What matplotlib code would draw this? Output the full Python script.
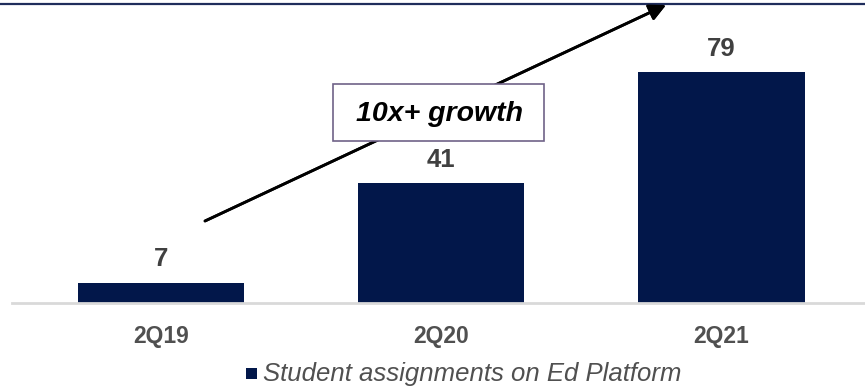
import matplotlib.pyplot as plt
from matplotlib.lines import Line2D
from matplotlib.patches import Rectangle

# Daten
quarters = ["2Q19", "2Q20", "2Q21"]
assignments = [7, 41, 79]
series_name = "Student assignments on Ed Platform"
callout = "10x+ growth"

navy = "#02174a"
plt.rcParams["font.family"] = ["Liberation Sans", "DejaVu Sans"]

fig = plt.figure(figsize=(8.65, 3.86), dpi=100)
W, H = 865, 386

# Achsen in Pixeln: links 12, unten 303, oben 3
ax = fig.add_axes([12 / W, (H - 303) / H, (W - 12) / W, 300 / H])
x = list(range(len(quarters)))
ax.bar(x, assignments, width=0.596, color=navy, zorder=2)
ax.set_xlim(-0.532, 2.514)
ax.set_ylim(0, 102.7)

for xi, v in zip(x, assignments):
    ax.text(xi, v + 4, str(v), ha="center", va="bottom", fontsize=18.5,
            fontweight="bold", color="#404040")

ax.set_xticks(x)
ax.set_xticklabels(quarters, fontsize=16.5, fontweight="bold", color="#505050")
ax.tick_params(axis="x", length=0, pad=16)
ax.set_yticks([])
for s in ["top", "right", "left"]:
    ax.spines[s].set_visible(False)
ax.spines["bottom"].set_color("#d9d9d9")
ax.spines["bottom"].set_linewidth(2)

# Linie oben über die ganze Breite
fig.add_artist(Line2D([0, 1], [1 - 3.5 / H, 1 - 3.5 / H], color="#1f2d5c", lw=1.6))

# Wachstumspfeil
fig.add_artist(plt.annotate(
    "", xy=(666 / W, 1 - 5 / H), xytext=(205 / W, 1 - 221 / H),
    xycoords="figure fraction", textcoords="figure fraction",
    arrowprops=dict(arrowstyle="-|>,head_length=1.0,head_width=0.5",
                    color="black", lw=2, shrinkA=0, shrinkB=0)))

# Kasten mit Beschriftung
box = Rectangle((333 / W, 1 - 141 / H), 211 / W, 57 / H, transform=fig.transFigure,
                facecolor="white", edgecolor="#6f6288", lw=1.2, zorder=5)
fig.add_artist(box)
fig.text(440 / W, 1 - 114 / H, callout, ha="center", va="center", fontsize=20.5,
         fontweight="bold", fontstyle="italic", color="black", zorder=6)

# Legende
fig.add_artist(Rectangle((246 / W, 1 - 379 / H), 11 / W, 11 / H, transform=fig.transFigure,
                         facecolor=navy, edgecolor="none"))
fig.text(263 / W, 1 - 374 / H, series_name, ha="left", va="center", fontsize=18.5,
         fontstyle="italic", color="#505050")

fig.savefig("out.png", dpi=100)
